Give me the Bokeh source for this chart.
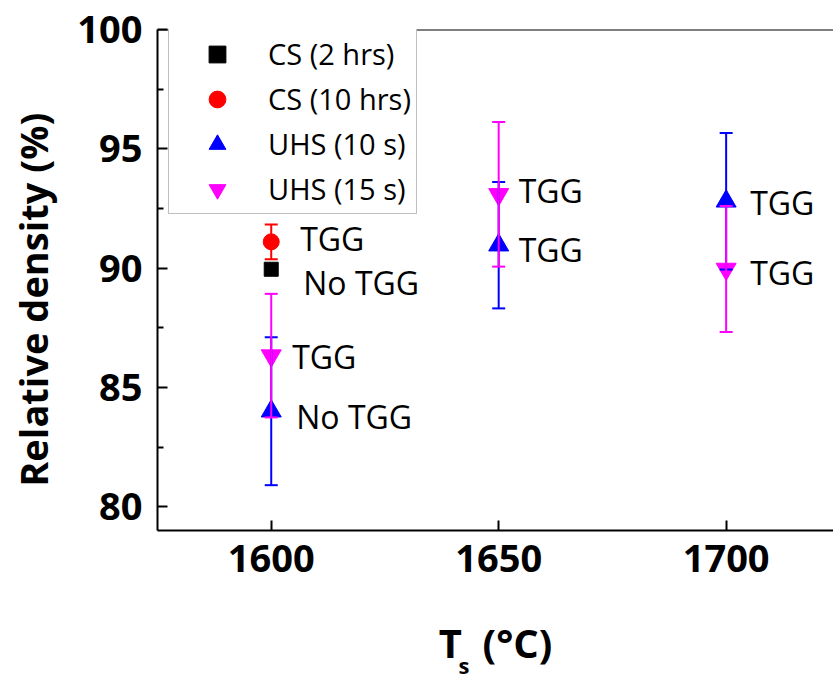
from bokeh.plotting import figure
from bokeh.models import (ColumnDataSource, Whisker, TeeHead, Legend, LegendItem,
                          FixedTicker, Range1d, Span, LinearAxis)
from bokeh.core.properties import value
from bokeh.embed import file_html
from bokeh.resources import INLINE

# ---------------- data ----------------
x_ticks = [1600, 1650, 1700]
y_ticks = [80, 85, 90, 95, 100]
y_minor = [77.5, 82.5, 87.5, 92.5, 97.5]

cs2_x = [1600]
cs2_y = [89.95]

cs10_x = [1600]
cs10_y = [91.10]
cs10_err = [0.73]

uhs10_x = [1600, 1650, 1700]
uhs10_y = [84.00, 90.96, 92.80]
uhs10_err = [3.10, 2.65, 2.86]

uhs15_x = [1600, 1650, 1700]
uhs15_y = [86.33, 93.09, 89.96]
uhs15_err = [2.59, 3.03, 2.64]

series_names = ["CS (2 hrs)", "CS (10 hrs)", "UHS (10 s)", "UHS (15 s)"]

ann_text = ["TGG", "No TGG", "TGG", "No TGG", "TGG", "TGG", "TGG", "TGG"]
ann_x = [cs10_x[0], cs2_x[0], uhs15_x[0], uhs10_x[0], uhs15_x[1], uhs10_x[1], uhs10_x[2], uhs15_x[2]]
ann_y = [cs10_y[0], cs2_y[0], uhs15_y[0], uhs10_y[0], uhs15_y[1], uhs10_y[1], uhs10_y[2], uhs15_y[2]]

# label pixel offsets (layout only)
ann_dx = [29, 32, 21, 25, 20, 20, 24, 24]
ann_dy = [-3, 13, 1, 5, -4, 4, 1, 3]

y_title = "Relative density (%)"
x_title_main = "T\u00a0\u00a0(°C)"
x_title_sub = "s"

FONT = "Open Sans"
NB = "\u00a0"

p = figure(width=833, height=684, output_backend="svg", toolbar_location=None,
           x_range=Range1d(1575, 1723.6), y_range=Range1d(79, 100),
           min_border_left=157, min_border_right=0, min_border_top=29, min_border_bottom=154)
p.background_fill_color = "white"
p.border_fill_color = "white"
p.outline_line_color = None
p.xgrid.visible = False
p.ygrid.visible = False

for ax in (p.xaxis[0], p.yaxis[0]):
    ax.axis_line_width = 2
    ax.axis_line_color = "black"
    ax.major_tick_line_width = 2
    ax.minor_tick_line_width = 2
    ax.major_tick_in = 10
    ax.major_tick_out = 0
    ax.minor_tick_in = 6
    ax.minor_tick_out = 0
    ax.major_label_text_font = FONT
    ax.major_label_text_font_style = "bold"
    ax.major_label_text_font_size = "38px"
    ax.major_label_text_color = "black"
    ax.axis_label_text_font = FONT
    ax.axis_label_text_font_style = "bold"
    ax.axis_label_text_font_size = "38px"
    ax.axis_label_text_color = "black"

p.xaxis[0].ticker = FixedTicker(ticks=x_ticks, minor_ticks=[])
p.yaxis[0].ticker = FixedTicker(ticks=y_ticks, minor_ticks=y_minor)
p.xaxis[0].major_label_standoff = 14
p.yaxis[0].major_label_standoff = 15

# axis titles (trailing no-break spaces shift the centred title like the reference)
p.yaxis[0].axis_label = y_title + NB * 4
p.yaxis[0].axis_label_standoff = 15
p.xaxis[0].axis_label = x_title_main
p.xaxis[0].axis_label_text_font_size = "40px"
p.xaxis[0].axis_label_standoff = 40

# subscript "s" carried by a bare extra axis below
s_axis = LinearAxis(ticker=FixedTicker(ticks=[], minor_ticks=[]),
                    axis_line_color=None, major_tick_line_color=None, minor_tick_line_color=None,
                    major_label_text_font_size="0px",
                    axis_label=x_title_sub + NB * 11, axis_label_standoff=-23,
                    axis_label_text_font=FONT, axis_label_text_font_style="bold",
                    axis_label_text_font_size="22px", axis_label_text_color="black")
p.add_layout(s_axis, "below")

# top border line
p.add_layout(Span(location=100, dimension="width", line_color="black", line_width=2))

# ---------------- markers ----------------
def src_with_err(xs, ys, es):
    return ColumnDataSource(dict(x=xs, y=ys,
                                 lo=[y - e for y, e in zip(ys, es)],
                                 hi=[y + e for y, e in zip(ys, es)]))

src_cs2 = ColumnDataSource(dict(x=cs2_x, y=cs2_y))
src_cs10 = src_with_err(cs10_x, cs10_y, cs10_err)
src_u10 = src_with_err(uhs10_x, uhs10_y, uhs10_err)
src_u15 = src_with_err(uhs15_x, uhs15_y, uhs15_err)

r_cs2 = p.scatter("x", "y", source=src_cs2, marker="square", size=14, color="black")
r_cs10 = p.scatter("x", "y", source=src_cs10, marker="circle", size=16, color="#FF0000")
r_u10 = p.scatter("x", "y", source=src_u10, marker="triangle", size=20, color="#0000FF")
r_u15 = p.scatter("x", "y", source=src_u15, marker="inverted_triangle", size=20, color="#FF00FF")

def whisker(src, color):
    w = Whisker(source=src, base="x", lower="lo", upper="hi", level="annotation",
                line_color=color, line_width=2,
                upper_head=TeeHead(size=13, line_color=color, line_width=2),
                lower_head=TeeHead(size=13, line_color=color, line_width=2))
    p.add_layout(w)

whisker(src_u10, "#0000FF")
whisker(src_u15, "#FF00FF")
whisker(src_cs10, "#FF0000")

# ---------------- annotations ----------------
src_ann = ColumnDataSource(dict(x=ann_x, y=ann_y, text=ann_text, dx=ann_dx, dy=ann_dy))
p.text("x", "y", text="text", source=src_ann, x_offset="dx", y_offset="dy",
       text_font=value(FONT), text_font_size="32px", text_color="black",
       text_align="left", text_baseline="middle")

# ---------------- legend ----------------
legend = Legend(items=[LegendItem(label=n, renderers=[r]) for n, r in
                       zip(series_names, [r_cs2, r_cs10, r_u10, r_u15])],
                location=(11, 316), orientation="vertical",
                padding=2, spacing=0, margin=0,
                glyph_width=92, glyph_height=42, label_height=45, label_width=146,
                label_standoff=5,
                label_text_font=FONT, label_text_font_size="29px", label_text_color="black",
                border_line_color="#808080", border_line_width=1,
                background_fill_color="white", background_fill_alpha=1.0)
p.add_layout(legend)

open("out.html", "w").write(file_html(p, INLINE))
